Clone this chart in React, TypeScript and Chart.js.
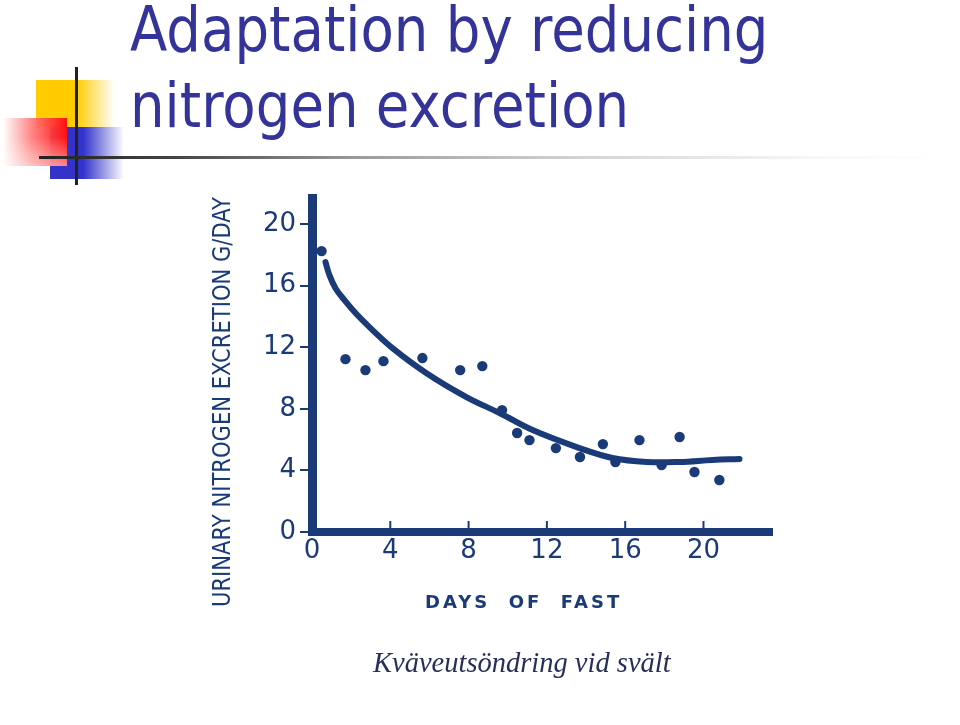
import React, { useEffect, useRef } from "react";
import { Chart, registerables } from "chart.js";

Chart.register(...registerables);

const NAVY = "#1b3a78";
const TITLE_COLOR = "#333399";

const titleLines = ["Adaptation by reducing", "nitrogen excretion"];
const xAxisTitle = "DAYS  OF  FAST";
const yAxisTitle = "URINARY NITROGEN EXCRETION G/DAY";
const caption = "Kväveutsöndring vid svält";

const xTickValues = [0, 4, 8, 12, 16, 20];
const yTickValues = [0, 4, 8, 12, 16, 20];

// observed daily values (dots)
const obsDays = [0.49, 1.71, 2.73, 3.65, 5.64, 7.57, 8.7, 9.71, 10.48, 11.11, 12.46, 13.69, 14.86, 15.5, 16.73, 17.86, 18.78, 19.54, 20.81];
const obsExcretion = [18.25, 11.23, 10.52, 11.1, 11.3, 10.52, 10.78, 7.92, 6.43, 5.97, 5.45, 4.87, 5.71, 4.55, 5.97, 4.35, 6.17, 3.9, 3.38];

// fitted curve
const fitDays = [0.69, 0.89, 1.2, 1.66, 2.27, 3.04, 4.11, 5.85, 7.89, 9.58, 11.27, 13.67, 15.35, 17.09, 18.78, 20.47, 21.84];
const fitExcretion = [17.53, 16.69, 15.84, 15.06, 14.16, 13.18, 11.95, 10.32, 8.77, 7.73, 6.62, 5.45, 4.81, 4.55, 4.55, 4.68, 4.74];

const axisDecor = {
  id: "axisDecor",
  afterDraw(chart: any) {
    const { ctx, chartArea, scales } = chart;
    const xs = scales.x;
    ctx.save();
    // upward tick marks on x axis
    ctx.strokeStyle = NAVY;
    ctx.lineWidth = 2;
    for (const v of xTickValues) {
      if (v === 0) continue;
      const px = xs.getPixelForValue(v);
      ctx.beginPath();
      ctx.moveTo(px, chartArea.bottom - 11);
      ctx.lineTo(px, chartArea.bottom);
      ctx.stroke();
    }
    // x axis title
    ctx.fillStyle = NAVY;
    ctx.font = "bold 18px 'DejaVu Sans'";
    try { (ctx as any).letterSpacing = "3px"; } catch (e) {}
    ctx.textAlign = "left";
    ctx.textBaseline = "alphabetic";
    ctx.fillText(xAxisTitle, chartArea.left + 113, chartArea.bottom + 76);
    try { (ctx as any).letterSpacing = "0px"; } catch (e) {}
    // y axis title (rotated, condensed)
    ctx.font = "24px 'DejaVu Sans'";
    const w = ctx.measureText(yAxisTitle).width;
    ctx.translate(chartArea.left - 88, 402);
    ctx.rotate(-Math.PI / 2);
    ctx.scale(410 / w, 1);
    ctx.textAlign = "center";
    ctx.textBaseline = "middle";
    ctx.fillText(yAxisTitle, 0, 0);
    ctx.restore();
  },
};

export default function App() {
  const ref = useRef<HTMLCanvasElement>(null);

  useEffect(() => {
    if (!ref.current) return;
    const chart = new Chart(ref.current, {
      type: "scatter",
      data: {
        datasets: [
          {
            label: "fit",
            data: fitDays.map((d, i) => ({ x: d, y: fitExcretion[i] })),
            showLine: true,
            borderColor: NAVY,
            backgroundColor: NAVY,
            borderWidth: 6,
            pointRadius: 0,
            tension: 0.4,
            borderCapStyle: "round",
            borderJoinStyle: "round",
          } as any,
          {
            label: "observed",
            data: obsDays.map((d, i) => ({ x: d, y: obsExcretion[i] })),
            showLine: false,
            backgroundColor: NAVY,
            borderColor: NAVY,
            borderWidth: 0,
            pointRadius: 5.2,
          },
        ],
      },
      options: {
        animation: false,
        responsive: false,
        maintainAspectRatio: false,
        events: [],
        layout: { padding: { left: 0, top: 198, right: 188, bottom: 0 } },
        plugins: {
          legend: { display: false },
          tooltip: { enabled: false },
          title: { display: false },
        },
        scales: {
          x: {
            type: "linear",
            min: 0,
            max: 23.5,
            afterBuildTicks: (s: any) => {
              s.ticks = xTickValues.map((v) => ({ value: v }));
            },
            afterFit: (s: any) => {
              s.height = 193;
            },
            grid: { display: true, drawOnChartArea: false, drawTicks: false, color: NAVY, lineWidth: 2 },
            border: { display: true, color: NAVY, width: 8 },
            ticks: {
              color: NAVY,
              font: { family: "'DejaVu Sans'", size: 26 },
              padding: 4,
              maxRotation: 0,
              autoSkip: false,
            },
          },
          y: {
            type: "linear",
            min: 0,
            max: 21.7,
            afterBuildTicks: (s: any) => {
              s.ticks = yTickValues.map((v) => ({ value: v }));
            },
            afterFit: (s: any) => {
              s.width = 312;
            },
            grid: { display: true, drawOnChartArea: false, drawTicks: true, tickLength: 12, color: NAVY, lineWidth: 2 },
            border: { display: true, color: NAVY, width: 9 },
            ticks: {
              color: NAVY,
              font: { family: "'DejaVu Sans'", size: 26 },
              padding: 4,
              autoSkip: false,
            },
          },
        },
      },
      plugins: [axisDecor],
    });
    return () => chart.destroy();
  }, []);

  const abs = (s: React.CSSProperties): React.CSSProperties => ({ position: "absolute", ...s });

  return (
    <div style={abs({ left: 0, top: 0, width: 960, height: 725, background: "#ffffff", overflow: "hidden" })}>
      {/* decoration */}
      <div style={abs({ left: 36, top: 80, width: 78, height: 47, background: "linear-gradient(to right, #ffcc00 0%, #ffcc00 52%, rgba(255,204,0,0) 100%)" })} />
      <div style={abs({ left: 50, top: 127, width: 74, height: 52, background: "linear-gradient(to right, #3333cc 0%, #3333cc 45%, rgba(51,51,204,0) 100%)" })} />
      <div style={abs({ left: 3, top: 118, width: 64, height: 48, background: "linear-gradient(to right, rgba(255,255,255,0.9) 0%, rgba(255,120,120,0.9) 45%, #ff1010 100%)" })} />
      <div style={abs({ left: 3, top: 118, width: 64, height: 48, background: "linear-gradient(to bottom, rgba(255,255,255,0) 0%, rgba(255,255,255,0) 40%, rgba(255,255,255,0.5) 100%)" })} />
      <div style={abs({ left: 75, top: 67, width: 3, height: 118, background: "#222222" })} />
      <div style={abs({ left: 39, top: 156, width: 905, height: 3, background: "linear-gradient(to right, #222222 0%, #444444 15%, #9a9a9a 35%, #d4d4d4 60%, rgba(240,240,240,0.6) 85%, rgba(255,255,255,0) 100%)" })} />

      {/* title */}
      {titleLines.map((t, i) => (
        <div
          key={t}
          style={abs({
            left: 130,
            top: i === 0 ? -1 : 75,
            fontFamily: "'DejaVu Sans'",
            fontSize: 62,
            lineHeight: "62px",
            color: TITLE_COLOR,
            whiteSpace: "nowrap",
            transform: "scaleX(0.88)",
            transformOrigin: "0 0",
          })}
        >
          {t}
        </div>
      ))}

      <canvas ref={ref} width={960} height={725} style={abs({ left: 0, top: 0, width: 960, height: 725 })} />

      <div
        style={abs({
          left: 373,
          top: 649,
          fontFamily: "'Liberation Serif'",
          fontStyle: "italic",
          fontSize: 28.5,
          lineHeight: "28.5px",
          color: "#25305a",
          whiteSpace: "nowrap",
        })}
      >
        {caption}
      </div>
    </div>
  );
}
